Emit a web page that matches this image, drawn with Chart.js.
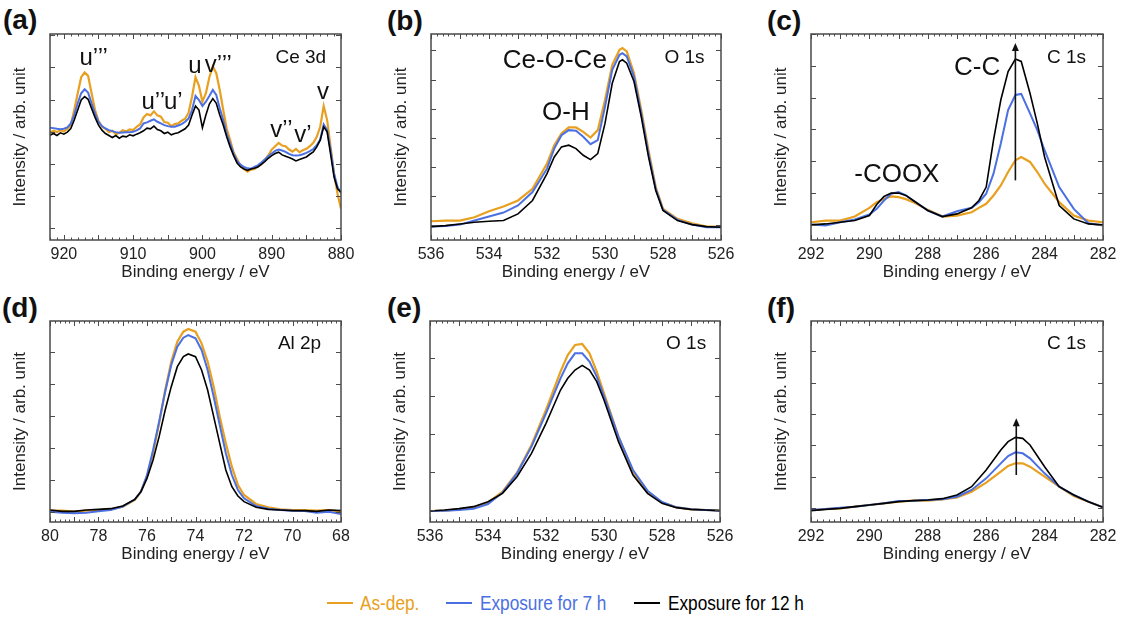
<!DOCTYPE html>
<html>
<head>
<meta charset="utf-8">
<script src="https://cdn.jsdelivr.net/npm/chart.js@4/dist/chart.umd.min.js"></script>
<style>
  body { margin: 0; background: #fff; width: 1126px; height: 622px; overflow: hidden; position: relative;
         font-family: "Liberation Sans", Arial, sans-serif; }
  .panel { position: absolute; }
  .tag { position: absolute; font-weight: bold; font-size: 28px; line-height: 1; color: #111; }
  .legtxt { position: absolute; top: 590px; line-height: 26px; font-size: 21px; white-space: nowrap;
            font-family: "Liberation Sans", Arial, sans-serif; transform: scaleX(0.82); transform-origin: 0 50%; }
  .sw { position: absolute; top: 602px; width: 26px; height: 2px; }
</style>
</head>
<body>
<div class="tag" style="left:3px;top:6px">(a)</div>
<div class="tag" style="left:387px;top:7px">(b)</div>
<div class="tag" style="left:767px;top:7px">(c)</div>
<div class="tag" style="left:2px;top:294px">(d)</div>
<div class="tag" style="left:387px;top:294px">(e)</div>
<div class="tag" style="left:767px;top:294px">(f)</div>

<div class="sw" style="left:327px;background:#E8A020"></div>
<div class="legtxt" style="left:360px;color:#E8A020">As-dep.</div>
<div class="sw" style="left:446px;background:#4B70E2"></div>
<div class="legtxt" style="left:480px;color:#4B70E2">Exposure for 7 h</div>
<div class="sw" style="left:634px;background:#000"></div>
<div class="legtxt" style="left:668px;color:#000">Exposure for 12 h</div>

<script>
// ---- series ----
const seriesNames = ['As-dep.', 'Exposure for 7 h', 'Exposure for 12 h'];
const seriesColors = ['#E8A020', '#4B70E2', '#000000'];
const seriesWidths = [2.2, 2.0, 1.6];

// ---- (a) CeO2 film, Ce 3d ----
const ce3dEnergy = [922, 921.5, 921, 920.5, 920, 919.5, 919, 918.5, 918, 917.5, 917, 916.5, 916, 915.5, 915, 914.5, 914, 913.5, 913, 912.5, 912, 911.5, 911, 910.5, 910, 909.5, 909, 908.5, 908, 907.5, 907, 906.5, 906, 905.5, 905, 904.5, 904, 903.5, 903, 902.5, 902, 901.5, 901, 900.5, 900, 899.5, 899, 898.5, 898, 897.5, 897, 896.5, 896, 895.5, 895, 894.5, 894, 893.5, 893, 892.5, 892, 891.5, 891, 890.5, 890, 889.5, 889, 888.5, 888, 887.5, 887, 886.5, 886, 885.5, 885, 884.5, 884, 883.5, 883, 882.5, 882, 881.5, 881, 880.5, 880];
const ce3dAsDep = [320, 326, 322, 328, 324, 332, 343, 388, 438, 486, 500, 490, 438, 388, 356, 338, 332, 322, 326, 316, 320, 328, 324, 330, 328, 338, 345, 366, 376, 372, 384, 372, 368, 352, 350, 340, 346, 348, 356, 362, 380, 428, 486, 460, 413, 438, 486, 518, 498, 448, 388, 333, 298, 262, 242, 222, 212, 204, 210, 212, 220, 226, 240, 252, 270, 280, 290, 282, 280, 270, 264, 272, 262, 268, 272, 280, 290, 308, 338, 400, 358, 278, 198, 138, 93];
const ce3dExp7h = [335, 334, 332, 331, 332, 336, 348, 373, 408, 438, 450, 440, 408, 378, 353, 340, 333, 328, 325, 322, 320, 321, 322, 322, 323, 327, 333, 348, 351, 356, 360, 353, 348, 343, 340, 338, 338, 342, 346, 353, 363, 388, 430, 418, 400, 413, 430, 448, 433, 393, 358, 318, 288, 258, 236, 225, 218, 214, 213, 218, 223, 231, 240, 250, 258, 266, 270, 267, 263, 257, 253, 252, 253, 256, 260, 265, 271, 283, 300, 345, 328, 268, 198, 158, 140];
const ce3dExp12h = [313, 318, 312, 320, 316, 322, 333, 358, 388, 418, 428, 420, 393, 366, 343, 328, 318, 312, 306, 312, 304, 310, 308, 314, 311, 316, 320, 326, 334, 332, 340, 330, 326, 318, 322, 314, 318, 320, 326, 332, 343, 373, 400, 388, 335, 373, 406, 422, 408, 373, 343, 308, 278, 252, 230, 218, 212, 208, 212, 214, 218, 226, 234, 244, 252, 258, 262, 254, 250, 246, 242, 236, 240, 244, 248, 256, 263, 278, 298, 338, 323, 256, 188, 153, 143];
const ce3dTicks = [920, 910, 900, 890, 880];
const ce3dIntensityTicks = [36, 131.8, 227.6, 323.4, 419.2, 515, 610.8];

// ---- (b) CeO2 film, O 1s ----
const ceO1sEnergy = [536, 535.5, 535, 534.5, 534, 533.5, 533, 532.5, 532, 531.75, 531.5, 531.25, 531, 530.75, 530.5, 530.25, 530, 529.75, 529.5, 529.4, 529.25, 529, 528.75, 528.5, 528.25, 528, 527.5, 527, 526.5, 526];
const ceO1sAsDep = [56, 58, 58, 68, 86, 100, 118, 153, 228, 283, 318, 336, 336, 323, 306, 328, 418, 523, 568, 573, 563, 498, 388, 268, 158, 93, 63, 50, 40, 40];
const ceO1sExp7h = [40, 42, 46, 58, 70, 82, 103, 143, 213, 273, 313, 328, 326, 308, 286, 298, 398, 508, 553, 558, 548, 488, 378, 258, 153, 90, 60, 46, 38, 38];
const ceO1sExp12h = [40, 43, 48, 53, 56, 58, 78, 118, 198, 248, 278, 283, 273, 253, 240, 258, 348, 468, 533, 538, 528, 473, 368, 248, 148, 88, 58, 46, 40, 38];
const o1sTicks = [536, 534, 532, 530, 528, 526];
const ceO1sIntensityTicks = [44, 131, 218, 305, 392, 479, 566];

// ---- (c) CeO2 film, C 1s ----
const ceC1sEnergy = [292, 291.5, 291, 290.5, 290, 289.75, 289.5, 289.25, 289, 288.75, 288.5, 288, 287.5, 287, 286.5, 286.25, 286, 285.75, 285.5, 285.25, 285, 284.8, 284.5, 284.25, 284, 283.5, 283, 282.5, 282];
const ceC1sAsDep = [53, 58, 58, 70, 96, 113, 123, 130, 128, 122, 113, 90, 70, 73, 83, 96, 108, 133, 163, 203, 238, 248, 233, 203, 168, 113, 73, 58, 53];
const ceC1sExp7h = [46, 43, 53, 61, 76, 93, 118, 138, 143, 133, 118, 88, 70, 86, 96, 113, 138, 198, 288, 388, 433, 436, 378, 328, 268, 158, 93, 50, 43];
const ceC1sExp12h = [45, 48, 53, 58, 73, 106, 130, 140, 140, 133, 118, 88, 70, 78, 96, 118, 158, 298, 418, 503, 540, 533, 438, 348, 248, 103, 63, 48, 45];
const c1sTicks = [292, 290, 288, 286, 284, 282];
const ceC1sIntensityTicks = [46, 140.8, 235.6, 330.4, 425.2, 520, 614.8];

// ---- (d) Al2O3 film, Al 2p ----
const al2pEnergy = [80, 79.5, 79, 78.5, 78, 77.5, 77, 76.5, 76.25, 76, 75.75, 75.5, 75.25, 75, 74.75, 74.5, 74.3, 74, 73.75, 73.5, 73.25, 73, 72.75, 72.5, 72.25, 72, 71.5, 71, 70.5, 70, 69.5, 69, 68.5, 68];
const al2pAsDep = [34, 34, 31, 34, 36, 38, 46, 66, 91, 136, 206, 296, 396, 481, 541, 571, 579, 571, 536, 481, 406, 316, 236, 166, 111, 81, 54, 44, 38, 36, 36, 34, 36, 31];
const al2pExp7h = [31, 28, 26, 28, 32, 36, 46, 68, 91, 141, 216, 301, 391, 471, 526, 553, 561, 551, 516, 456, 376, 291, 206, 141, 96, 71, 48, 40, 36, 34, 33, 28, 31, 24];
const al2pExp12h = [36, 32, 32, 36, 38, 40, 48, 68, 91, 131, 186, 256, 336, 406, 466, 496, 504, 496, 456, 396, 316, 236, 156, 106, 78, 61, 44, 38, 36, 34, 34, 32, 36, 34];
const al2pTicks = [80, 78, 76, 74, 72, 70, 68];
const al2pIntensityTicks = [30.25, 126, 221.75, 317.5, 413.25, 509];

// ---- (e) Al2O3 film, O 1s ----
const alO1sEnergy = [536, 535.5, 535, 534.5, 534, 533.5, 533, 532.5, 532, 531.5, 531.25, 531, 530.75, 530.5, 530.25, 530, 529.5, 529, 528.5, 528, 527.5, 527, 526.5, 526];
const alO1sAsDep = [33, 34, 38, 44, 58, 91, 148, 231, 336, 451, 501, 531, 534, 506, 451, 386, 256, 151, 91, 58, 44, 38, 36, 34];
const alO1sExp7h = [33, 34, 36, 40, 54, 88, 146, 226, 326, 431, 476, 506, 506, 481, 436, 378, 256, 156, 94, 60, 44, 38, 36, 34];
const alO1sExp12h = [33, 36, 40, 46, 61, 86, 136, 206, 296, 396, 431, 456, 470, 456, 421, 366, 241, 141, 86, 56, 43, 38, 36, 34];
const alO1sIntensityTicks = [35, 149, 263, 377, 491];

// ---- (f) Al2O3 film, C 1s ----
const alC1sEnergy = [292, 291.5, 291, 290.5, 290, 289.5, 289, 288.5, 288, 287.5, 287, 286.5, 286, 285.5, 285.25, 285, 284.75, 284.5, 284, 283.5, 283, 282.5, 282];
const alC1sAsDep = [36, 39, 41, 46, 51, 56, 61, 64, 64, 68, 74, 91, 118, 151, 168, 176, 176, 166, 136, 106, 78, 61, 44];
const alC1sExp7h = [36, 39, 43, 46, 51, 56, 63, 64, 66, 68, 76, 96, 131, 176, 198, 209, 206, 191, 146, 106, 81, 61, 44];
const alC1sExp12h = [34, 38, 41, 46, 51, 56, 61, 64, 66, 70, 81, 106, 156, 216, 241, 254, 251, 231, 166, 106, 81, 61, 44];
const alC1sIntensityTicks = [41.5, 135.75, 230, 324.25, 418.5, 512.75];

// ---- peak labels (energy, intensity) ----
const ce3dNotes = [
  { text: 'u\u2019\u2019\u2019', x: 915.7, y: 523, size: 24 },
  { text: 'u\u2019\u2019', x: 907.1, y: 390, size: 24 },
  { text: 'u\u2019', x: 904.2, y: 390, size: 24 },
  { text: 'u', x: 901.1, y: 500, size: 24 },
  { text: 'v\u2019\u2019\u2019', x: 897.7, y: 503, size: 24 },
  { text: 'v\u2019\u2019', x: 888.6, y: 308, size: 24 },
  { text: 'v\u2019', x: 885.5, y: 293, size: 24 },
  { text: 'v', x: 882.6, y: 420, size: 24 },
  { text: 'Ce 3d', x: 885.8, y: 528, size: 19 }
];
const ceO1sNotes = [
  { text: 'Ce-O-Ce', x: 531.73, y: 513, size: 26 },
  { text: 'O-H', x: 531.35, y: 358, size: 26 },
  { text: 'O 1s', x: 527.26, y: 528, size: 19 }
];
const ceC1sNotes = [
  { text: 'C-C', x: 286.31, y: 493, size: 26 },
  { text: '-COOX', x: 289.06, y: 173, size: 26 },
  { text: 'C 1s', x: 283.25, y: 528, size: 19 }
];
const al2pNotes = [{ text: 'Al 2p', x: 69.71, y: 518, size: 19 }];
const alO1sNotes = [{ text: 'O 1s', x: 527.17, y: 518, size: 19 }];
const alC1sNotes = [{ text: 'C 1s', x: 283.25, y: 518, size: 19 }];

// growth arrows: energy, from intensity, to intensity
const ceC1sArrow = { x: 285.0, from: 178, to: 588 };
const alC1sArrow = { x: 284.97, from: 141, to: 311 };

const FONT = '"Liberation Sans", Arial, sans-serif';
const FRAME = '#4a4a4a';

const panels = [
  { energy: ce3dEnergy, series: [ce3dAsDep, ce3dExp7h, ce3dExp12h], xMin: 880, xMax: 922, xLabels: ce3dTicks,
    xMajor: 5, xMinor: 1, yMax: 615, yTicks: ce3dIntensityTicks, notes: ce3dNotes, arrow: null, box: [50, 34, 341, 240] },
  { energy: ceO1sEnergy, series: [ceO1sAsDep, ceO1sExp7h, ceO1sExp12h], xMin: 526, xMax: 536, xLabels: o1sTicks,
    xMajor: 1, xMinor: 0.2, yMax: 615, yTicks: ceO1sIntensityTicks, notes: ceO1sNotes, arrow: null, box: [431, 34, 721, 240] },
  { energy: ceC1sEnergy, series: [ceC1sAsDep, ceC1sExp7h, ceC1sExp12h], xMin: 282, xMax: 292, xLabels: c1sTicks,
    xMajor: 1, xMinor: 0.2, yMax: 615, yTicks: ceC1sIntensityTicks, notes: ceC1sNotes, arrow: ceC1sArrow, box: [811, 34, 1103, 240] },
  { energy: al2pEnergy, series: [al2pAsDep, al2pExp7h, al2pExp12h], xMin: 68, xMax: 80, xLabels: al2pTicks,
    xMajor: 1, xMinor: 0.2, yMax: 603, yTicks: al2pIntensityTicks, notes: al2pNotes, arrow: null, box: [50, 321, 341, 522] },
  { energy: alO1sEnergy, series: [alO1sAsDep, alO1sExp7h, alO1sExp12h], xMin: 526, xMax: 536, xLabels: o1sTicks,
    xMajor: 1, xMinor: 0.2, yMax: 603, yTicks: alO1sIntensityTicks, notes: alO1sNotes, arrow: null, box: [430, 321, 720, 522] },
  { energy: alC1sEnergy, series: [alC1sAsDep, alC1sExp7h, alC1sExp12h], xMin: 282, xMax: 292, xLabels: c1sTicks,
    xMajor: 1, xMinor: 0.2, yMax: 603, yTicks: alC1sIntensityTicks, notes: alC1sNotes, arrow: alC1sArrow, box: [811, 321, 1103, 522] }
];

// inward ticks on all four sides, frame, labels and arrows
function framePlugin(p) {
  return {
    id: 'xpsFrame',
    afterDatasetsDraw(chart) {
      const ctx = chart.ctx;
      const { left, right, top, bottom } = chart.chartArea;
      const xs = chart.scales.x, ys = chart.scales.y;
      ctx.save();
      ctx.strokeStyle = FRAME;
      ctx.lineWidth = 1;
      ctx.beginPath();
      const k0 = Math.ceil(p.xMin / p.xMinor - 1e-6), k1 = Math.floor(p.xMax / p.xMinor + 1e-6);
      for (let k = k0; k <= k1; k++) {
        const v = k * p.xMinor;
        const r = v / p.xMajor;
        const len = Math.abs(r - Math.round(r)) < 1e-6 ? 5 : 2.5;
        const px = Math.round(xs.getPixelForValue(v)) + 0.5;
        ctx.moveTo(px, bottom); ctx.lineTo(px, bottom - len);
        ctx.moveTo(px, top); ctx.lineTo(px, top + len);
      }
      p.yTicks.forEach(v => {
        const py = Math.round(ys.getPixelForValue(v)) + 0.5;
        ctx.moveTo(left, py); ctx.lineTo(left + 5, py);
        ctx.moveTo(right, py); ctx.lineTo(right - 5, py);
      });
      ctx.stroke();
      ctx.lineWidth = 1.5;
      ctx.strokeRect(left, top, right - left, bottom - top);

      ctx.fillStyle = '#111';
      ctx.textAlign = 'center';
      ctx.textBaseline = 'alphabetic';
      p.notes.forEach(n => {
        ctx.font = n.size + 'px ' + FONT;
        ctx.fillText(n.text, xs.getPixelForValue(n.x), ys.getPixelForValue(n.y));
      });

      if (p.arrow) {
        const ax = xs.getPixelForValue(p.arrow.x);
        const y0 = ys.getPixelForValue(p.arrow.from), y1 = ys.getPixelForValue(p.arrow.to);
        ctx.strokeStyle = '#111';
        ctx.fillStyle = '#111';
        ctx.lineWidth = 1.6;
        ctx.beginPath();
        ctx.moveTo(ax, y0); ctx.lineTo(ax, y1 + 6);
        ctx.stroke();
        ctx.beginPath();
        ctx.moveTo(ax, y1); ctx.lineTo(ax - 3.5, y1 + 8); ctx.lineTo(ax + 3.5, y1 + 8); ctx.closePath();
        ctx.fill();
      }
      ctx.restore();
    }
  };
}

const PAD_L = 46, PAD_T = 12, PAD_R = 24, PAD_B = 48;

panels.forEach(p => {
  const [bl, bt, br, bb] = p.box;
  const wrap = document.createElement('div');
  wrap.className = 'panel';
  wrap.style.left = (bl - PAD_L) + 'px';
  wrap.style.top = (bt - PAD_T) + 'px';
  wrap.style.width = (br - bl + PAD_L + PAD_R) + 'px';
  wrap.style.height = (bb - bt + PAD_T + PAD_B) + 'px';
  const cv = document.createElement('canvas');
  wrap.appendChild(cv);
  document.body.appendChild(wrap);

  new Chart(cv, {
    type: 'line',
    data: {
      datasets: p.series.map((s, i) => ({
        label: seriesNames[i],
        data: p.energy.map((e, j) => ({ x: e, y: s[j] })),
        borderColor: seriesColors[i],
        borderWidth: seriesWidths[i],
        pointRadius: 0,
        tension: 0,
        fill: false
      })).reverse()
    },
    options: {
      responsive: true,
      maintainAspectRatio: false,
      animation: false,
      events: [],
      layout: { padding: { top: PAD_T, right: PAD_R, left: 0, bottom: 0 } },
      plugins: { legend: { display: false }, tooltip: { enabled: false } },
      scales: {
        x: {
          type: 'linear', reverse: true, min: p.xMin, max: p.xMax,
          grid: { display: false, drawTicks: false, tickLength: 0 }, border: { display: false },
          afterBuildTicks: sc => { sc.ticks = p.xLabels.map(v => ({ value: v })); },
          afterFit: sc => { sc.height = PAD_B; },
          ticks: { color: '#222', font: { size: 16, family: FONT }, padding: 5, maxRotation: 0, autoSkip: false,
                   callback: v => String(v) },
          title: { display: true, text: 'Binding energy / eV', color: '#222',
                   font: { size: 17, family: FONT }, padding: { top: 0, bottom: 5 } }
        },
        y: {
          type: 'linear', min: 0, max: p.yMax,
          grid: { display: false, drawTicks: false, tickLength: 0 }, border: { display: false },
          ticks: { display: false },
          afterBuildTicks: sc => { sc.ticks = p.yTicks.map(v => ({ value: v })); },
          afterFit: sc => { sc.width = PAD_L; },
          title: { display: true, text: 'Intensity / arb. unit', color: '#222',
                   font: { size: 17, family: FONT }, padding: { top: 6, bottom: 0 } }
        }
      }
    },
    plugins: [framePlugin(p)]
  });
});
</script>
</body>
</html>
